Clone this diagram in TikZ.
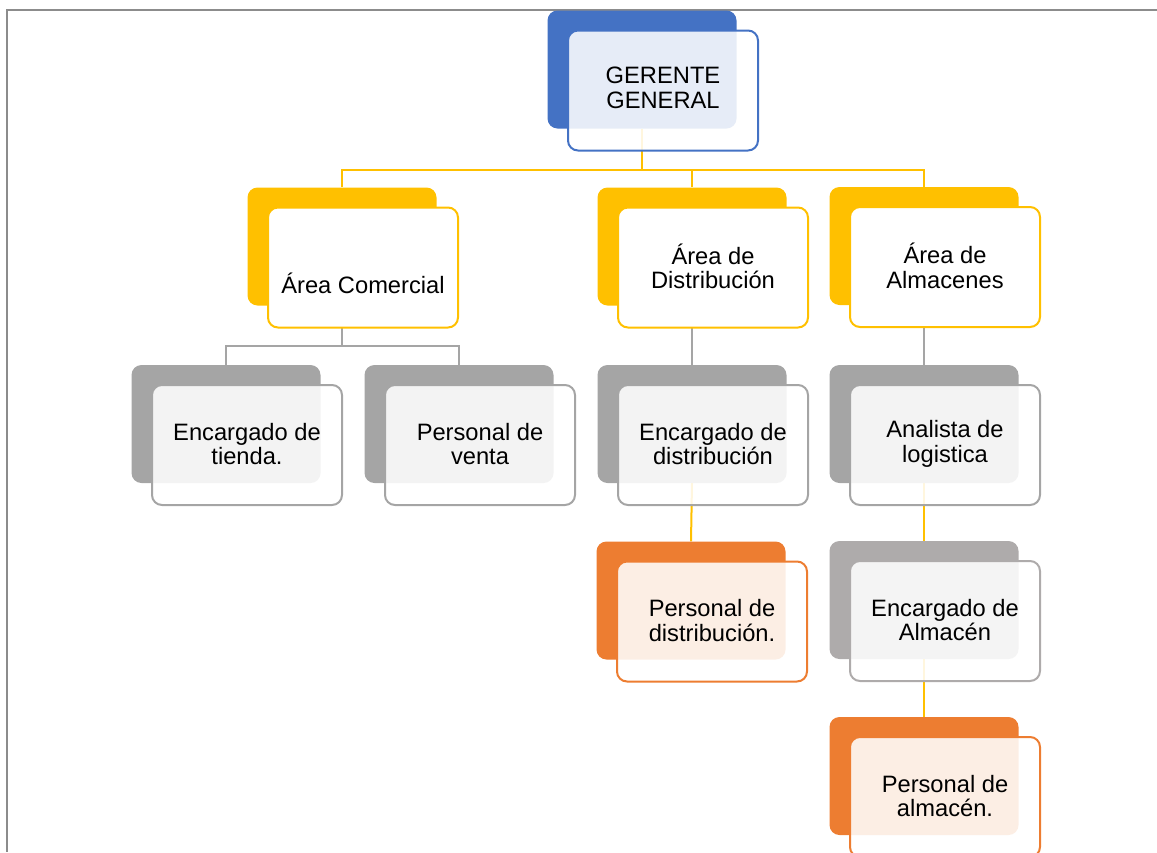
\documentclass[tikz,border=0pt]{standalone}
\usepackage{fontspec}
\setmainfont{Liberation Sans}
\usetikzlibrary{positioning,calc}
\definecolor{cblue}{HTML}{4472C4}
\definecolor{cyellow}{HTML}{FFC000}
\definecolor{cgray}{HTML}{A5A5A5}
\definecolor{cwarm}{HTML}{AEABAB}
\definecolor{corange}{HTML}{ED7D31}
\definecolor{cframe}{HTML}{8C8C8C}
\pgfdeclarelayer{bg}
\pgfsetlayers{bg,main}
\tikzset{
  backbox/.style={rectangle, rounded corners=10pt, minimum width=189pt, minimum height=118pt, inner sep=0pt, draw=none},
  frontbox/.style={rectangle, rounded corners=10pt, minimum width=190pt, minimum height=120pt, inner sep=0pt, line width=2pt},
  tinted/.style={fill=white, fill opacity=0.87},
  solidw/.style={fill=white},
  txt/.style={align=center, inner sep=0pt, font=\fontsize{23.7}{24.5}\selectfont},
  thinline/.style={draw=cyellow, line width=1.2pt},
  grayline/.style={draw=cgray, line width=2.2pt},
  yline/.style={draw=cyellow, line width=2pt},
}
\newcommand\obox[7]{%
  \node[backbox, fill=#4] (#1-b) at (#2,#3) {};
  \node[frontbox, draw=#4, #5] (#1-f) at ([shift={(21,21)}]#1-b.center) {};
  \node[txt] (#1) at ([yshift=#7]#1-f.center) {#6};
}
\begin{document}
\begin{tikzpicture}[x=1pt,y=-1pt]
\useasboundingbox (0,0) rectangle (1157,852);
\clip (0,0) rectangle (1157,852);
\coordinate (frtr) at (1157,10);
\coordinate (frtl) at (7,10);
\coordinate (frbl) at (7,852);
\draw[cframe, line width=2pt] (frtr) -- (frtl) -- (frbl);

\obox{gg}{642}{69.5}{cblue}{tinted}{GERENTE\\GENERAL}{2.5pt}
\obox{ac}{342}{246.5}{cyellow}{solidw}{Área Comercial}{-16pt}
\obox{ad}{692}{246.5}{cyellow}{solidw}{Área de\\Distribución}{1pt}
\obox{al}{924}{246}{cyellow}{solidw}{Área de\\Almacenes}{1pt}
\obox{et}{226}{424}{cgray}{tinted}{Encargado de\\tienda.}{1pt}
\obox{pv}{459}{424}{cgray}{tinted}{Personal de\\venta}{1pt}
\obox{ed}{692}{424}{cgray}{tinted}{Encargado de\\distribución}{1pt}
\obox{an}{924}{424}{cgray}{tinted}{Analista de\\logistica}{1pt}
\obox{pd}{691}{600.5}{corange}{tinted}{Personal de\\distribución.}{1pt}
\obox{ea}{924}{600}{cwarm}{tinted}{Encargado de\\Almacén}{1pt}
\obox{pa}{924}{776}{corange}{tinted}{Personal de\\almacén.}{1pt}

\begin{pgfonlayer}{bg}
  \coordinate (j0) at (642,170);
  \coordinate (j1) at (342,346);
  \draw[thinline] (gg-b.south) -- (j0);
  \draw[thinline] (ac-b.north) |- (j0) -| (al-b.north);
  \draw[thinline] (ad-b.north) -- (ad-b.north |- j0);
  \draw[grayline] (ac-b.south) -- (j1);
  \draw[grayline] (et-b.north) |- (j1) -| (pv-b.north);
  \draw[grayline] (ad-b.south) -- (ed-b.north);
  \draw[grayline] (al-b.south) -- (an-b.north);
  \draw[yline] (ed-b.south) -- (pd-b.north);
  \draw[yline] (an-b.south) -- (ea-b.north);
  \draw[yline] (ea-b.south) -- (pa-b.north);
\end{pgfonlayer}
\end{tikzpicture}
\end{document}
